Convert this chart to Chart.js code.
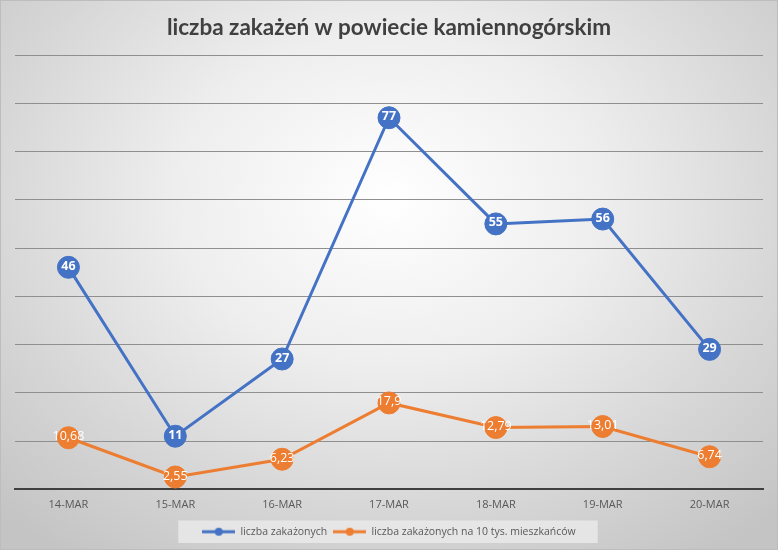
<!DOCTYPE html>
<html>
<head>
<meta charset="utf-8">
<script src="https://cdn.jsdelivr.net/npm/chart.js@4/dist/chart.umd.min.js"></script>
<style>
  html, body { margin: 0; padding: 0; }
  #wrap {
    position: relative; width: 778px; height: 550px; box-sizing: border-box;
    border: 1px solid #bdbdbd;
    background: radial-gradient(ellipse 72% 80% at 50% 36%, #ffffff 0%, #eeeeee 38%, #d6d6d6 72%, #c4c4c4 100%);
  }
  canvas { display: block; }
</style>
</head>
<body>
<div id="wrap"><canvas id="c" width="776" height="548"></canvas></div>
<script>
const categories = ['14-MAR', '15-MAR', '16-MAR', '17-MAR', '18-MAR', '19-MAR', '20-MAR'];
const infections = [46, 11, 27, 77, 55, 56, 29];
const infectionsPer10k = [10.68, 2.55, 6.23, 17.9, 12.79, 13.01, 6.74];
const seriesNames = ['liczba zakażonych', 'liczba zakażonych na 10 tys. mieszkańców'];
const titleText = 'liczba zakażeń w powiecie kamiennogórskim';
const yMin = 0, yMax = 90, yStep = 10;

const BLUE = '#4472C4', ORANGE = '#ED7D31';

function markerImage(color) {
  const cv = document.createElement('canvas');
  cv.width = 33; cv.height = 10;
  const g = cv.getContext('2d');
  g.strokeStyle = color; g.lineWidth = 3;
  g.beginPath(); g.moveTo(0, 5); g.lineTo(33, 5); g.stroke();
  g.fillStyle = color;
  g.beginPath(); g.arc(16.5, 5, 4, 0, Math.PI * 2); g.fill();
  return cv;
}

const valueLabels = {
  id: 'valueLabels',
  afterDatasetsDraw(chart) {
    const ctx = chart.ctx;
    ctx.save();
    ctx.textAlign = 'center';
    ctx.textBaseline = 'middle';
    ctx.fillStyle = '#ffffff';
    chart.data.datasets.forEach((ds, i) => {
      const meta = chart.getDatasetMeta(i);
      ctx.font = (i === 0 ? 'bold ' : '') + '12.5px "Open Sans", sans-serif';
      meta.data.forEach((pt, j) => {
        const txt = String(ds.data[j]).replace('.', ',');
        ctx.fillText(txt, pt.x, pt.y - 1);
      });
    });
    ctx.restore();
  }
};

const legendBox = {
  id: 'legendBox',
  beforeDraw(chart) {
    const lg = chart.legend;
    if (!lg || !lg.legendHitBoxes || !lg.legendHitBoxes.length) return;
    const hb = lg.legendHitBoxes;
    let x0 = Infinity, x1 = -Infinity, y0 = Infinity, y1 = -Infinity;
    hb.forEach(b => { x0 = Math.min(x0, b.left); x1 = Math.max(x1, b.left + b.width); y0 = Math.min(y0, b.top); y1 = Math.max(y1, b.top + b.height); });
    const ctx = chart.ctx;
    ctx.save();
    ctx.fillStyle = 'rgba(236,236,236,0.75)';
    ctx.fillRect(x0 - 24, y0 - 6, (x1 - x0) + 46, (y1 - y0) + 12);
    ctx.restore();
  }
};

new Chart(document.getElementById('c'), {
  type: 'line',
  data: {
    labels: categories,
    datasets: [
      {
        label: seriesNames[0], data: infections,
        borderColor: BLUE, backgroundColor: BLUE, borderWidth: 3,
        pointRadius: 11, pointHoverRadius: 11, pointBackgroundColor: BLUE,
        pointBorderColor: BLUE, pointBorderWidth: 1, tension: 0
      },
      {
        label: seriesNames[1], data: infectionsPer10k,
        borderColor: ORANGE, backgroundColor: ORANGE, borderWidth: 3,
        pointRadius: 11, pointHoverRadius: 11, pointBackgroundColor: ORANGE,
        pointBorderColor: ORANGE, pointBorderWidth: 1, tension: 0
      }
    ]
  },
  options: {
    responsive: false,
    animation: false,
    layout: { padding: { left: 14, right: 14, top: 0, bottom: 2 } },
    plugins: {
      title: {
        display: true, text: titleText, color: '#404040',
        font: { family: 'Lato, "Open Sans", sans-serif', size: 22.5, weight: 'bold' },
        padding: { top: 13, bottom: 14 }
      },
      legend: {
        position: 'bottom',
        labels: {
          color: '#595959',
          font: { family: '"Open Sans", sans-serif', size: 10.5 },
          usePointStyle: true, pointStyleWidth: 33, boxHeight: 10,
          padding: 6,
          generateLabels(chart) {
            return chart.data.datasets.map((ds, i) => ({
              text: ds.label, fillStyle: ds.borderColor, strokeStyle: ds.borderColor,
              lineWidth: 0, pointStyle: markerImage(ds.borderColor), datasetIndex: i, hidden: false,
              fontColor: '#595959'
            }));
          }
        }
      },
      tooltip: { enabled: false }
    },
    scales: {
      x: {
        offset: true,
        grid: { display: false, drawTicks: false },
        border: { display: true, color: '#3f3f3f', width: 2 },
        ticks: { color: '#595959', font: { family: '"Open Sans", sans-serif', size: 11 }, padding: 9 }
      },
      y: {
        min: yMin, max: yMax,
        ticks: { display: false, stepSize: yStep },
        grid: { color: '#8f8f8f', lineWidth: 1, drawTicks: false },
        border: { display: false }
      }
    }
  },
  plugins: [legendBox, valueLabels]
});
</script>
</body>
</html>
